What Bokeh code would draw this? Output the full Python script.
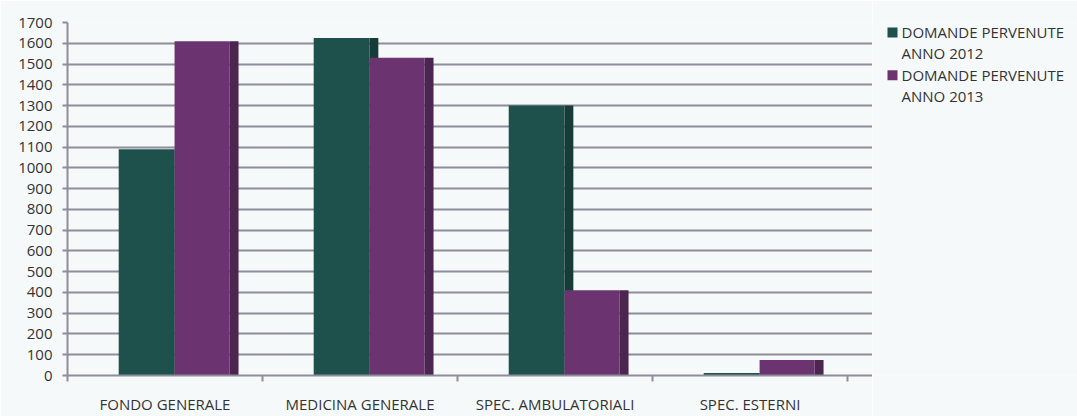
import numpy as np
from bokeh.plotting import figure
from bokeh.layouts import row
from bokeh.models import FixedTicker, Range1d
from bokeh.embed import file_html
from bokeh.resources import INLINE

categories = ["FONDO GENERALE", "MEDICINA GENERALE", "SPEC. AMBULATORIALI", "SPEC. ESTERNI"]
legend_lines = [["DOMANDE PERVENUTE", "ANNO 2012"], ["DOMANDE PERVENUTE", "ANNO 2013"]]
values_2012 = [1090, 1625, 1300, 12]
values_2013 = [1610, 1530, 410, 75]
y_ticks = list(range(0, 1800, 100))

FONT = "Open Sans"
BG = "#f6f9fa"
GRID = "#8e8d9a"
C12 = "#1e504c"
C12_SIDE = "#163b38"
C13 = "#6b3470"
C13_SIDE = "#4c2551"
TXT = "#333333"

idx = np.arange(len(categories))

p = figure(width=872, height=416, output_backend="svg", toolbar_location=None,
           x_range=Range1d(0, 4.128), y_range=Range1d(0, 1700),
           min_border_left=67, min_border_right=0, min_border_top=22, min_border_bottom=39,
           background_fill_color=BG, border_fill_color=BG, outline_line_color=None)

p.vbar(x=idx + 0.405, top=values_2012, width=0.285, bottom=0, fill_color=C12, line_color=None)
p.vbar(x=idx + 0.571, top=values_2012, width=0.046, bottom=0, fill_color=C12_SIDE, line_color=None)
p.vbar(x=idx + 0.69, top=values_2013, width=0.282, bottom=0, fill_color=C13, line_color=None)
p.vbar(x=idx + 0.854, top=values_2013, width=0.046, bottom=0, fill_color=C13_SIDE, line_color=None)

# y axis
p.yaxis.ticker = FixedTicker(ticks=y_ticks)
p.yaxis.axis_line_color = GRID
p.yaxis.axis_line_width = 2
p.yaxis.major_tick_line_color = GRID
p.yaxis.major_tick_line_width = 2
p.yaxis.major_tick_out = 5
p.yaxis.major_tick_in = 0
p.yaxis.minor_tick_line_color = None
p.yaxis.major_label_text_font = FONT
p.yaxis.major_label_text_font_size = "15px"
p.yaxis.major_label_text_color = TXT
p.yaxis.major_label_standoff = 10

# x axis
centers = [i + 0.5 for i in range(len(categories))]
p.xaxis.ticker = FixedTicker(ticks=centers, minor_ticks=list(range(len(categories) + 1)))
p.xaxis.major_label_overrides = {c: name for c, name in zip(centers, categories)}
p.xaxis.major_tick_line_color = None
p.xaxis.minor_tick_line_color = GRID
p.xaxis.minor_tick_line_width = 2
p.xaxis.minor_tick_out = 6
p.xaxis.minor_tick_in = 0
p.xaxis.axis_line_color = GRID
p.xaxis.axis_line_width = 2
p.xaxis.major_label_text_font = FONT
p.xaxis.major_label_text_font_size = "15px"
p.xaxis.major_label_text_color = TXT
p.xaxis.major_label_standoff = 12

p.xgrid.grid_line_color = None
p.ygrid.grid_line_color = GRID
p.ygrid.grid_line_width = 2

# legend panel (separate figure; its frame is aligned with the chart's frame,
# so its ranges are set in page pixels of that frame)
lg = figure(width=205, height=416, output_backend="svg", toolbar_location=None,
            x_range=Range1d(0, 205), y_range=Range1d(376, 22),
            x_axis_location=None, y_axis_location=None,
            min_border=0, background_fill_color=BG, border_fill_color=BG,
            outline_line_color=None)
lg.grid.visible = False
line_y = [32, 53, 75, 96]
texts = [t for pair in legend_lines for t in pair]
lg.scatter(x=[20, 20], y=[line_y[0], line_y[2]], marker="square", size=10,
           fill_color=[C12, C13], line_color=None)
lg.text(x=[29] * 4, y=line_y, text=texts, text_font={"value": FONT},
        text_font_size="15px", text_color=TXT, text_baseline="middle", text_align="left")

layout = row(p, lg, spacing=0)
open("out.html", "w").write(file_html(layout, INLINE))
